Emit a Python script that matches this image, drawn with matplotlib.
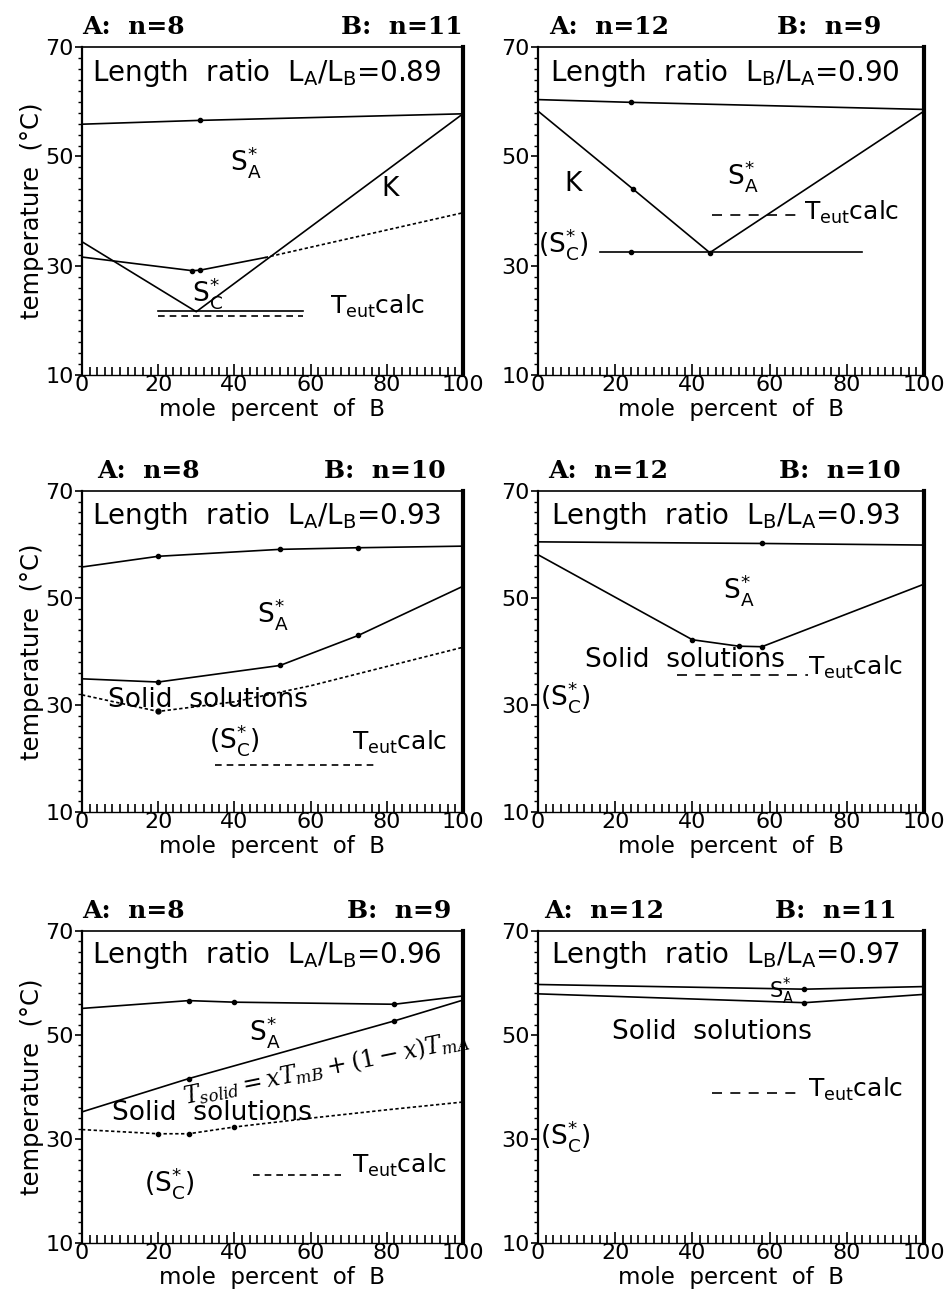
import matplotlib.pyplot as plt
from matplotlib.ticker import MultipleLocator

plt.rcParams['font.family'] = ['DejaVu Sans']
plt.rcParams['mathtext.fontset'] = 'dejavusans'

x_ticks = [0, 20, 40, 60, 80, 100]
y_ticks = [10, 30, 50, 70]

# panel 1: A n=8 / B n=11
p1_upper_x = [0, 31, 100]
p1_upper_y = [55.9, 56.6, 57.8]
p1_k_x = [0, 30, 100]
p1_k_y = [34.4, 21.6, 57.8]
p1_sc_x = [0, 29, 31, 48]
p1_sc_y = [31.6, 29.1, 29.2, 31.5]
p1_sc_dot_x = [48, 100]
p1_sc_dot_y = [31.5, 39.7]
p1_eut_x = [20, 58]
p1_eut_y = [21.8, 21.8]
p1_eut2_y = [20.9, 20.9]

# panel 2: A n=12 / B n=9
p2_upper_x = [0, 24, 100]
p2_upper_y = [60.4, 59.9, 58.6]
p2_k_x = [0, 24.5, 44.5, 100]
p2_k_y = [58.3, 44.1, 32.4, 58.3]
p2_sc_x = [16, 24, 84]
p2_sc_y = [32.5, 32.5, 32.5]
p2_eut_x = [45, 68]
p2_eut_y = [39.2, 39.2]

# panel 3: A n=8 / B n=10
p3_upper_x = [0, 20, 52, 72.5, 100]
p3_upper_y = [55.8, 57.8, 59.1, 59.4, 59.7]
p3_liq_x = [0, 20, 52, 72.5, 100]
p3_liq_y = [34.9, 34.3, 37.4, 43.0, 52.2]
p3_sol_x = [0, 20, 40, 60, 80, 100]
p3_sol_y = [31.9, 28.8, 30.6, 33.6, 37.2, 40.8]
p3_eut_x = [35, 77]
p3_eut_y = [18.7, 18.7]

# panel 4: A n=12 / B n=10
p4_upper_x = [0, 58, 100]
p4_upper_y = [60.5, 60.2, 59.9]
p4_liq_x = [0, 40, 52, 58, 100]
p4_liq_y = [58.1, 42.2, 41.0, 40.9, 52.6]
p4_eut_x = [36, 70]
p4_eut_y = [35.6, 35.6]

# panel 5: A n=8 / B n=9
p5_upper_x = [0, 28, 40, 82, 100]
p5_upper_y = [55.1, 56.6, 56.3, 55.9, 57.5]
p5_liq_x = [0, 28, 82, 100]
p5_liq_y = [35.2, 41.6, 52.7, 56.7]
p5_sol_x = [0, 20, 28, 40, 60, 80, 100]
p5_sol_y = [31.8, 31.0, 31.0, 32.3, 34.0, 35.6, 37.1]
p5_eut_x = [45, 68]
p5_eut_y = [23.0, 23.0]

# panel 6: A n=12 / B n=11
p6_upper_x = [0, 69, 100]
p6_upper_y = [59.7, 58.8, 59.3]
p6_lower_x = [0, 69, 100]
p6_lower_y = [57.9, 56.2, 57.8]
p6_eut_x = [45, 68]
p6_eut_y = [38.8, 38.8]

SA = r'S$_\mathrm{A}^{*}$'
SC = r'S$_\mathrm{C}^{*}$'
TEUT = r'T$_\mathrm{eut}$calc'
FS = 18
SOLID = 'Solid  solutions'


def setup(ax, a_n, b_n, ratio, show_ylabel, ax_pos=0.0, bx_pos=1.0):
    ax.set_xlim(0, 100)
    ax.set_ylim(10, 70)
    ax.set_xticks(x_ticks)
    ax.set_yticks(y_ticks)
    ax.xaxis.set_minor_locator(MultipleLocator(2))
    ax.yaxis.set_minor_locator(MultipleLocator(2))
    ax.tick_params(axis='x', which='major', direction='in', length=8, width=1.2,
                   labelsize=16, pad=0)
    ax.tick_params(axis='x', which='minor', direction='in', length=6, width=1.2)
    ax.tick_params(axis='y', which='major', direction='out', length=5, width=1.2,
                   labelsize=16, pad=1)
    ax.tick_params(axis='y', which='minor', direction='out', length=3, width=1)
    ax.spines['right'].set_linewidth(3)
    ax.spines['left'].set_linewidth(1.6)
    ax.spines['top'].set_linewidth(1.2)
    ax.spines['bottom'].set_linewidth(1.0)
    ax.set_xlabel('mole  percent  of  B', fontsize=16.5, labelpad=2)
    if show_ylabel:
        ax.set_ylabel('temperature  (°C)', fontsize=17.5, labelpad=1)
    ax.text(ax_pos, 1.025, 'A:  n=' + a_n, transform=ax.transAxes, ha='left',
            va='bottom', fontsize=18, fontweight='bold', family='DejaVu Serif')
    ax.text(bx_pos, 1.025, 'B:  n=' + b_n, transform=ax.transAxes, ha='right',
            va='bottom', fontsize=18, fontweight='bold', family='DejaVu Serif')
    ax.text(48.5, 65.3, 'Length  ratio  ' + ratio, ha='center', va='center',
            fontsize=20)


def curve(ax, x, y, ls='-', dots=True, lw=1.2):
    ax.plot(x, y, color='k', ls=ls, lw=lw)
    if dots:
        ax.plot(x[1:-1], y[1:-1], 'o', color='k', ms=3)


fig = plt.figure(figsize=(9.51, 12.98), dpi=100)
W = [0.0862, 0.5657]
AW = [0.4006, 0.406]
R = [(0.711, 0.2527), (0.3744, 0.2473), (0.0424, 0.2404)]
axes = [[fig.add_axes([W[c], R[r][0], AW[c], R[r][1]]) for c in range(2)]
        for r in range(3)]

# panel 1
ax = axes[0][0]
setup(ax, '8', '11', r'L$_\mathrm{A}$/L$_\mathrm{B}$=0.89', True)
curve(ax, p1_upper_x, p1_upper_y)
curve(ax, p1_k_x, p1_k_y, dots=False)
curve(ax, p1_sc_x, p1_sc_y)
curve(ax, p1_sc_dot_x, p1_sc_dot_y, ls=(0, (2, 1.5)), dots=False)
ax.plot(p1_eut_x, p1_eut_y, color='k', lw=1.2)
ax.plot(p1_eut_x, p1_eut2_y, color='k', lw=1.2, ls=(0, (4, 3)))
ax.text(43, 49, SA, ha='center', va='center', fontsize=19)
ax.text(81, 44, 'K', ha='center', va='center', fontsize=19)
ax.text(33, 25, SC, ha='center', va='center', fontsize=19)
ax.text(65, 22.5, TEUT, ha='left', va='center', fontsize=FS)

# panel 2
ax = axes[0][1]
setup(ax, '12', '9', r'L$_\mathrm{B}$/L$_\mathrm{A}$=0.90', False, 0.03, 0.89)
curve(ax, p2_upper_x, p2_upper_y)
curve(ax, p2_k_x, p2_k_y)
curve(ax, p2_sc_x, p2_sc_y, dots=False)
ax.plot(p2_sc_x[1], p2_sc_y[1], 'o', color='k', ms=3)
ax.plot(p2_eut_x, p2_eut_y, color='k', lw=1.2, ls=(0, (6, 5)))
ax.text(9, 45, 'K', ha='center', va='center', fontsize=19)
ax.text(53, 46.5, SA, ha='center', va='center', fontsize=19)
ax.text(6.5, 34, '(' + SC + ')', ha='center', va='center', fontsize=19)
ax.text(69, 39.8, TEUT, ha='left', va='center', fontsize=FS)

# panel 3
ax = axes[1][0]
setup(ax, '8', '10', r'L$_\mathrm{A}$/L$_\mathrm{B}$=0.93', True, 0.04, 0.955)
curve(ax, p3_upper_x, p3_upper_y)
curve(ax, p3_liq_x, p3_liq_y)
ax.plot(p3_sol_x, p3_sol_y, color='k', lw=1.2, ls=(0, (2, 1.5)))
ax.plot(p3_sol_x[1], p3_sol_y[1], 'o', color='k', ms=3.5)
ax.plot(p3_eut_x, p3_eut_y, color='k', lw=1.2, ls=(0, (4, 3)))
ax.text(50, 47, SA, ha='center', va='center', fontsize=19)
ax.text(33, 31, SOLID, ha='center', va='center', fontsize=19)
ax.text(40, 23.5, '(' + SC + ')', ha='center', va='center', fontsize=19)
ax.text(71, 23, TEUT, ha='left', va='center', fontsize=FS)

# panel 4
ax = axes[1][1]
setup(ax, '12', '10', r'L$_\mathrm{B}$/L$_\mathrm{A}$=0.93', False, 0.025, 0.94)
curve(ax, p4_upper_x, p4_upper_y)
curve(ax, p4_liq_x, p4_liq_y)
ax.plot(p4_eut_x, p4_eut_y, color='k', lw=1.2, ls=(0, (6, 5)))
ax.text(52, 51.5, SA, ha='center', va='center', fontsize=19)
ax.text(38, 38.5, SOLID, ha='center', va='center', fontsize=19)
ax.text(7, 31.5, '(' + SC + ')', ha='center', va='center', fontsize=19)
ax.text(70, 37, TEUT, ha='left', va='center', fontsize=FS)

# panel 5
ax = axes[2][0]
setup(ax, '8', '9', r'L$_\mathrm{A}$/L$_\mathrm{B}$=0.96', True, 0.0, 0.97)
curve(ax, p5_upper_x, p5_upper_y)
curve(ax, p5_liq_x, p5_liq_y)
ax.plot(p5_sol_x, p5_sol_y, color='k', lw=1.2, ls=(0, (2, 1.5)))
ax.plot(p5_sol_x[1:4], p5_sol_y[1:4], 'o', color='k', ms=3)
ax.plot(p5_eut_x, p5_eut_y, color='k', lw=1.2, ls=(0, (4, 3)))
ax.text(48, 50.5, SA, ha='center', va='center', fontsize=19)
ax.text(64, 43.6, r'$T_{solid}=xT_{mB}+(1-x)T_{mA}$', ha='center',
        va='center', fontsize=17, rotation=11.5, math_fontfamily='dejavuserif')
ax.text(34, 35.0, SOLID, ha='center', va='center', fontsize=19)
ax.text(23, 21.5, '(' + SC + ')', ha='center', va='center', fontsize=19)
ax.text(71, 25, TEUT, ha='left', va='center', fontsize=FS)

# panel 6
ax = axes[2][1]
setup(ax, '12', '11', r'L$_\mathrm{B}$/L$_\mathrm{A}$=0.97', False, 0.015, 0.93)
curve(ax, p6_upper_x, p6_upper_y)
curve(ax, p6_lower_x, p6_lower_y)
ax.text(63, 58.3, SA, ha='center', va='center', fontsize=15)
ax.text(45, 50.5, SOLID, ha='center', va='center', fontsize=19)
ax.text(7, 30.5, '(' + SC + ')', ha='center', va='center', fontsize=19)
ax.plot(p6_eut_x, p6_eut_y, color='k', lw=1.2, ls=(0, (6, 5)))
ax.text(70, 39.5, TEUT, ha='left', va='center', fontsize=FS)

fig.savefig('out.png', dpi=100)
